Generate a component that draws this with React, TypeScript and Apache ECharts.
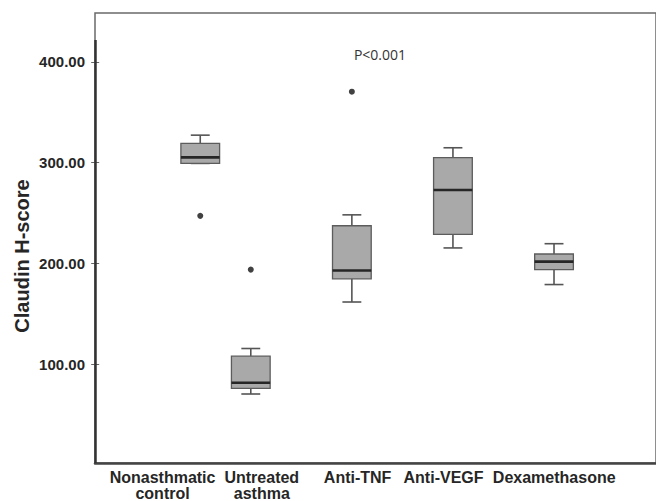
import React, { useEffect, useRef } from "react";
import * as echarts from "echarts";

// ---- data ----
const categories = ["Nonasthmatic\ncontrol", "Untreated\nasthma", "Anti-TNF", "Anti-VEGF", "Dexamethasone"];
const boxPositions = [1, 1.5, 2.5, 3.5, 4.5];
const labelPositions = [0.627, 1.609, 2.557, 3.407, 4.502];
const whiskerLow = [299.3, 70.7, 161.9, 215.5, 179.2];
const q1 = [299.3, 76.3, 184.9, 229.0, 194.0];
const median = [305.3, 81.9, 193.1, 273.0, 201.9];
const q3 = [319.1, 108.2, 237.5, 305.0, 209.5];
const whiskerHigh = [327.3, 115.8, 248.3, 314.8, 219.7];
const outlierGroup = [0, 1, 2];
const outlierValue = [247.3, 194.0, 370.4];
const yTicks = [100, 200, 300, 400];
const yAxisLineTop = 421.7;
const annotation = "P<0.001";
const yTitle = "Claudin H-score";

const X_MIN = -0.0413;
const X_MAX = 5.509;
const Y_MIN = 2.3;
const Y_MAX = 448.4;

export default function App() {
  const ref = useRef<HTMLDivElement>(null);
  useEffect(() => {
    if (!ref.current) return;
    const chart = echarts.init(ref.current, null, { renderer: "svg" });
    const boxData = categories.map((_, i) => [
      boxPositions[i],
      whiskerLow[i],
      q1[i],
      median[i],
      q3[i],
      whiskerHigh[i],
    ]);
    const outData = outlierGroup.map((g, i) => [boxPositions[g], outlierValue[i]]);
    const textColor = "#262626";
    const boldFont = "Liberation Sans, Arial, sans-serif";

    chart.setOption({
      animation: false,
      backgroundColor: "#ffffff",
      grid: {
        left: 95,
        right: -4,
        top: 13,
        bottom: 36,
        show: true,
        borderColor: "#6a6a6a",
        borderWidth: 1.5,
        backgroundColor: "transparent",
      },
      xAxis: {
        type: "value",
        min: X_MIN,
        max: X_MAX,
        splitLine: { show: false },
        axisTick: { show: false },
        axisLine: { show: true, onZero: false, lineStyle: { color: "#444", width: 2.5 } },
        axisLabel: {
          customValues: labelPositions,
          formatter: (v: number) => {
            let best = 0;
            labelPositions.forEach((p, i) => {
              if (Math.abs(p - v) < Math.abs(labelPositions[best] - v)) best = i;
            });
            return categories[best];
          },
          color: textColor,
          fontWeight: "bold",
          fontFamily: boldFont,
          fontSize: 16,
          lineHeight: 16,
          margin: 6,
          showMinLabel: true,
          showMaxLabel: true,
          hideOverlap: false,
        },
      },
      yAxis: {
        type: "value",
        min: Y_MIN,
        max: Y_MAX,
        splitLine: { show: false },
        axisLine: { show: false },
        axisTick: {
          show: true,
          customValues: yTicks,
          length: 8,
          lineStyle: { color: "#666", width: 1 },
        },
        axisLabel: {
          customValues: yTicks,
          formatter: (v: number) => v.toFixed(2),
          color: textColor,
          fontWeight: "bold",
          fontFamily: boldFont,
          fontSize: 15,
          margin: 10,
        },
      },
      series: [
        {
          type: "custom",
          data: boxData,
          encode: { x: 0, y: [1, 2, 3, 4, 5] },
          renderItem: (params: any, api: any) => {
            const x = api.value(0);
            const lo = api.coord([x, api.value(1)]);
            const b1 = api.coord([x, api.value(2)]);
            const md = api.coord([x, api.value(3)]);
            const b3 = api.coord([x, api.value(4)]);
            const hi = api.coord([x, api.value(5)]);
            const bw = api.size([0.383, 0])[0];
            const cw = api.size([0.187, 0])[0];
            const cx = lo[0];
            const wStyle = { stroke: "#555", lineWidth: 1.6 };
            return {
              type: "group",
              children: [
                { type: "line", shape: { x1: cx, y1: hi[1], x2: cx, y2: b3[1] }, style: wStyle },
                { type: "line", shape: { x1: cx - cw / 2, y1: hi[1], x2: cx + cw / 2, y2: hi[1] }, style: wStyle },
                { type: "line", shape: { x1: cx, y1: lo[1], x2: cx, y2: b1[1] }, style: wStyle },
                { type: "line", shape: { x1: cx - cw / 2, y1: lo[1], x2: cx + cw / 2, y2: lo[1] }, style: wStyle },
                {
                  type: "rect",
                  shape: { x: cx - bw / 2, y: b3[1], width: bw, height: b1[1] - b3[1] },
                  style: { fill: "#a9a9a9", stroke: "#5c5c5c", lineWidth: 1.3 },
                },
                {
                  type: "line",
                  shape: { x1: cx - bw / 2, y1: md[1], x2: cx + bw / 2, y2: md[1] },
                  style: { stroke: "#262626", lineWidth: 2.6 },
                },
              ],
            };
          },
        },
        {
          type: "scatter",
          data: outData,
          symbol: "circle",
          symbolSize: 6,
          itemStyle: { color: "#111" },
          markLine: {
            silent: true,
            symbol: ["none", "none"],
            label: { show: false },
            lineStyle: { color: "#333", width: 2.5, type: "solid" },
            data: [[{ coord: [X_MIN, Y_MIN] }, { coord: [X_MIN, yAxisLineTop] }]],
          },
        },
      ],
      graphic: [
        {
          type: "text",
          x: 22,
          y: 256,
          rotation: Math.PI / 2,
          style: {
            text: yTitle,
            fill: textColor,
            font: `bold 20px ${boldFont}`,
            textAlign: "center",
            textVerticalAlign: "middle",
          },
        },
        {
          type: "text",
          x: 380,
          y: 54,
          style: {
            text: annotation,
            fill: "#333",
            font: "14px 'Open Sans', sans-serif",
            textAlign: "center",
            textVerticalAlign: "middle",
          },
        },
      ],
    });
    return () => chart.dispose();
  }, []);
  return (
    <div
      ref={ref}
      style={{ position: "absolute", left: 0, top: 0, width: 656, height: 501, background: "#fff" }}
    />
  );
}
